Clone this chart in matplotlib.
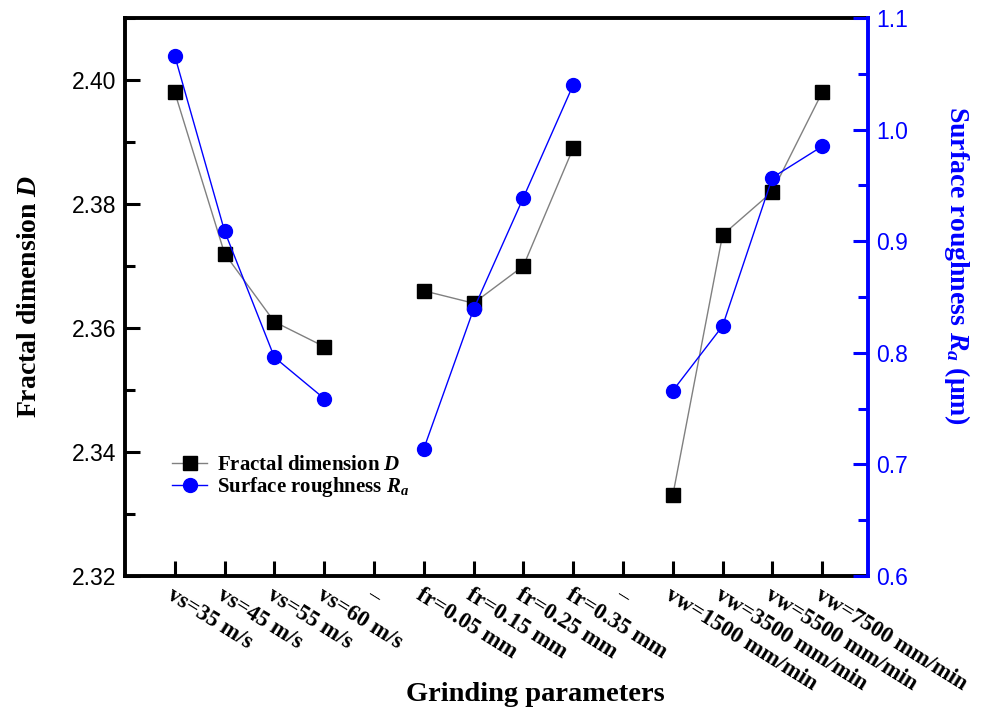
import numpy as np
import matplotlib
matplotlib.use("Agg")
import matplotlib.pyplot as plt
from matplotlib.lines import Line2D
from matplotlib.transforms import ScaledTranslation
from matplotlib.ticker import MultipleLocator

plt.rcParams['mathtext.fontset'] = 'custom'
plt.rcParams['mathtext.rm'] = 'Liberation Serif:bold'
plt.rcParams['mathtext.it'] = 'Liberation Serif:italic:bold'
plt.rcParams['mathtext.bf'] = 'Liberation Serif:bold'

# ---- data ----
categories = ["vs=35 m/s", "vs=45 m/s", "vs=55 m/s", "vs=60 m/s", "\u2013",
              "fr=0.05 mm", "fr=0.15 mm", "fr=0.25 mm", "fr=0.35 mm", "\u2013",
              "vw=1500 mm/min", "vw=3500 mm/min", "vw=5500 mm/min", "vw=7500 mm/min"]
fractal_D = [2.398, 2.372, 2.361, 2.357, None,
             2.366, 2.364, 2.370, 2.389, None,
             2.333, 2.375, 2.382, 2.398]
roughness_Ra = [1.066, 0.909, 0.796, 0.759, None,
                0.714, 0.839, 0.939, 1.040, None,
                0.766, 0.824, 0.957, 0.985]
left_ticks = [2.32, 2.34, 2.36, 2.38, 2.40]
right_ticks = [0.6, 0.7, 0.8, 0.9, 1.0, 1.1]

x = np.arange(1, len(categories) + 1)
D = np.array([np.nan if v is None else v for v in fractal_D], dtype=float)
Ra = np.array([np.nan if v is None else v for v in roughness_Ra], dtype=float)

BLUE = '#0000ff'
serif_bold = dict(family='Liberation Serif', weight='bold')

fig = plt.figure(figsize=(9.85, 7.13), dpi=100)
ax = fig.add_axes([0.1269, 0.1921, 0.8812 - 0.1269, 0.9748 - 0.1921])
ax2 = ax.twinx()

ax.plot(x, D, color='#808080', lw=1.0, zorder=2)
ax.plot(x, D, ls='none', marker='s', ms=10, mfc='black', mec='black', zorder=3)
ax2.plot(x, Ra, color=BLUE, lw=1.0, marker='o', ms=10, mfc=BLUE, mec=BLUE, zorder=3)

ax.set_xlim(0, 14.92)
ax.set_ylim(2.32, 2.41)
ax2.set_ylim(0.6, 1.1)

ax.set_yticks(left_ticks)
ax.set_yticklabels([f"{v:.2f}" for v in left_ticks], family='Liberation Sans', fontsize=16.5)
ax.yaxis.set_minor_locator(MultipleLocator(0.01))
ax2.set_yticks(right_ticks)
ax2.set_yticklabels([f"{v:.1f}" for v in right_ticks], family='Liberation Sans', fontsize=16.5, color=BLUE)
ax2.yaxis.set_minor_locator(MultipleLocator(0.05))

ax.set_xticks(x)
ax.set_xticklabels(categories, rotation=-32, ha='left', va='top', rotation_mode='anchor',
                   fontsize=16.5, **serif_bold)
off = ScaledTranslation(-8 / 100, 0, fig.dpi_scale_trans)
for lab in ax.get_xticklabels():
    lab.set_transform(lab.get_transform() + off)

ax.tick_params(axis='both', which='major', direction='in', length=11, width=2.2, pad=6)
ax.tick_params(axis='y', which='minor', direction='in', length=7, width=2.2)
ax.tick_params(axis='x', which='both', top=False)
ax.tick_params(axis='y', which='both', right=False)
ax2.tick_params(axis='y', which='major', direction='in', length=11, width=2.2, color=BLUE, pad=6)
ax2.tick_params(axis='y', which='minor', direction='in', length=7, width=2.2, color=BLUE)

for s in ['left', 'top', 'bottom']:
    ax.spines[s].set_linewidth(2.8)
    ax.spines[s].set_color('black')
ax.spines['right'].set_visible(False)
for s in ['left', 'top', 'bottom']:
    ax2.spines[s].set_visible(False)
ax2.spines['right'].set_linewidth(2.8)
ax2.spines['right'].set_color(BLUE)

ax.set_ylabel(r'Fractal dimension $D$', fontsize=20, **serif_bold)
ax.yaxis.set_label_coords(-0.112, 0.502)
ax2.set_ylabel(r'Surface roughness $R_a$ (μm)', fontsize=20, color=BLUE, rotation=270,
               va='bottom', **serif_bold)
ax2.yaxis.set_label_coords(1.10, 0.557)
ax.set_xlabel('Grinding parameters', fontsize=20.5, **serif_bold)
ax.xaxis.set_label_coords(0.552, -0.19)

handles = [Line2D([], [], color='#808080', lw=1.0, marker='s', ms=10, mfc='black', mec='black'),
           Line2D([], [], color=BLUE, lw=1.0, marker='o', ms=10, mfc=BLUE, mec=BLUE)]
ax2.legend(handles, [r'Fractal dimension $D$', r'Surface roughness $R_a$'],
           loc='upper left', bbox_to_anchor=(0.038, 0.25), frameon=False,
           prop=dict(family='Liberation Serif', weight='bold', size=15),
           handlelength=1.7, handletextpad=0.45, labelspacing=0.0)

fig.savefig('out.png', dpi=100, facecolor='white')
